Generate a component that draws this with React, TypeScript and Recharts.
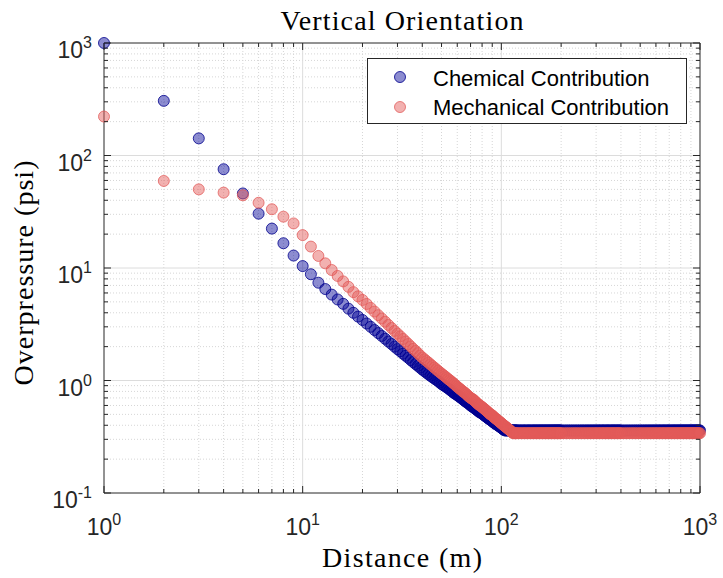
import { ScatterChart, Scatter, XAxis, YAxis, ReferenceLine, Legend } from "recharts";

const distance = [
  1, 2, 3, 4, 5, 6, 7, 8, 9, 10, 11, 12, 13, 14, 15, 16, 17, 18, 19, 20,
  21, 22, 23, 24, 25, 26, 27, 28, 29, 30, 31, 32, 33, 34, 35, 36, 37, 38, 39, 40,
  41, 42, 43, 44, 45, 46, 47, 48, 49, 50, 51, 52, 53, 54, 55, 56, 57, 58, 59, 60,
  61, 62, 63, 64, 65, 66, 67, 68, 69, 70, 71, 72, 73, 74, 75, 76, 77, 78, 79, 80,
  81, 82, 83, 84, 85, 86, 87, 88, 89, 90, 91, 92, 93, 94, 95, 96, 97, 98, 99, 100,
  101, 102, 103, 104, 105, 106, 107, 108, 109, 110, 111, 112, 113, 114, 115, 116, 117, 118, 119, 120,
  122, 124, 126, 128, 130, 132, 134, 136, 138, 140, 142, 144, 146, 148, 150, 152, 154, 156, 158, 160,
  162, 164, 166, 168, 170, 172, 174, 176, 178, 180, 182, 184, 186, 188, 190, 192, 194, 196, 198, 200,
  205, 210, 215, 220, 225, 230, 235, 240, 245, 250, 255, 260, 265, 270, 275, 280, 285, 290, 295, 300,
  305, 310, 315, 320, 325, 330, 335, 340, 345, 350, 355, 360, 365, 370, 375, 380, 385, 390, 395, 400,
  410, 420, 430, 440, 450, 460, 470, 480, 490, 500, 510, 520, 530, 540, 550, 560, 570, 580, 590, 600,
  610, 620, 630, 640, 650, 660, 670, 680, 690, 700, 710, 720, 730, 740, 750, 760, 770, 780, 790, 800,
  810, 820, 830, 840, 850, 860, 870, 880, 890, 900, 910, 920, 930, 940, 950, 960, 970, 980, 990, 1000,
];

// overpressure (psi)
const chemical = [
  1000, 306, 142, 75.5, 46, 30.4, 22.4, 16.6, 12.9, 10.4, 8.8, 7.4, 6.5, 5.8, 5.25, 4.8, 4.35, 4.0, 3.7, 3.45,
  3.21, 3.0, 2.81, 2.64, 2.49, 2.35, 2.22, 2.11, 2.0, 1.9, 1.82, 1.73, 1.66, 1.59, 1.52, 1.46, 1.4, 1.35, 1.3, 1.25,
  1.21, 1.17, 1.135, 1.1, 1.07, 1.04, 1.015, 0.99, 0.96, 0.93, 0.91, 0.89, 0.87, 0.85, 0.83, 0.81, 0.79, 0.77, 0.755, 0.74,
  0.725, 0.71, 0.695, 0.68, 0.665, 0.65, 0.64, 0.63, 0.615, 0.6, 0.59, 0.58, 0.57, 0.56, 0.55, 0.54, 0.53, 0.52, 0.515, 0.51,
  0.5, 0.49, 0.482, 0.475, 0.467, 0.46, 0.453, 0.447, 0.441, 0.435, 0.427, 0.42, 0.415, 0.41, 0.405, 0.4, 0.395, 0.39, 0.385, 0.38,
  0.375, 0.37, 0.365, 0.36, 0.36, 0.36, 0.36, 0.36, 0.36, 0.36, 0.36, 0.36, 0.36, 0.36, 0.36, 0.36, 0.36, 0.36, 0.36, 0.36,
  0.36, 0.36, 0.36, 0.36, 0.36, 0.36, 0.36, 0.36, 0.36, 0.36, 0.36, 0.36, 0.36, 0.36, 0.36, 0.36, 0.36, 0.36, 0.36, 0.36,
  0.36, 0.36, 0.36, 0.36, 0.36, 0.36, 0.36, 0.36, 0.36, 0.36, 0.36, 0.36, 0.36, 0.36, 0.36, 0.36, 0.36, 0.36, 0.36, 0.36,
  0.36, 0.36, 0.36, 0.36, 0.36, 0.36, 0.36, 0.36, 0.36, 0.36, 0.36, 0.36, 0.36, 0.36, 0.36, 0.36, 0.36, 0.36, 0.36, 0.36,
  0.36, 0.36, 0.36, 0.36, 0.36, 0.36, 0.36, 0.36, 0.36, 0.36, 0.36, 0.36, 0.36, 0.36, 0.36, 0.36, 0.36, 0.36, 0.36, 0.36,
  0.36, 0.36, 0.36, 0.36, 0.36, 0.36, 0.36, 0.36, 0.36, 0.36, 0.36, 0.36, 0.36, 0.36, 0.36, 0.36, 0.36, 0.36, 0.36, 0.36,
  0.36, 0.36, 0.36, 0.36, 0.36, 0.36, 0.36, 0.36, 0.36, 0.36, 0.36, 0.36, 0.36, 0.36, 0.36, 0.36, 0.36, 0.36, 0.36, 0.36,
  0.36, 0.36, 0.36, 0.36, 0.36, 0.36, 0.36, 0.36, 0.36, 0.36, 0.36, 0.36, 0.36, 0.36, 0.36, 0.36, 0.36, 0.36, 0.36, 0.36,
];

const mechanical = [
  222, 59.4, 50, 46.8, 44.3, 38, 33.3, 28.6, 24.9, 19.6, 15.5, 12.8, 11.0, 9.6, 8.5, 7.6, 6.8, 6.1, 5.6, 5.2,
  4.79, 4.42, 4.1, 3.81, 3.56, 3.33, 3.12, 2.93, 2.76, 2.61, 2.47, 2.34, 2.22, 2.11, 2.01, 1.91, 1.83, 1.75, 1.67, 1.6,
  1.545, 1.49, 1.44, 1.39, 1.345, 1.3, 1.26, 1.22, 1.185, 1.15, 1.12, 1.09, 1.06, 1.03, 1.005, 0.98, 0.955, 0.93, 0.905, 0.88,
  0.86, 0.84, 0.82, 0.8, 0.785, 0.77, 0.75, 0.73, 0.715, 0.7, 0.69, 0.68, 0.665, 0.65, 0.635, 0.62, 0.61, 0.6, 0.59, 0.58,
  0.57, 0.56, 0.55, 0.54, 0.53, 0.52, 0.51, 0.5, 0.495, 0.49, 0.48, 0.47, 0.463, 0.457, 0.45, 0.443, 0.436, 0.43, 0.423, 0.417,
  0.411, 0.405, 0.399, 0.394, 0.388, 0.383, 0.378, 0.373, 0.368, 0.363, 0.358, 0.353, 0.348, 0.343, 0.34, 0.34, 0.34, 0.34, 0.34, 0.34,
  0.34, 0.34, 0.34, 0.34, 0.34, 0.34, 0.34, 0.34, 0.34, 0.34, 0.34, 0.34, 0.34, 0.34, 0.34, 0.34, 0.34, 0.34, 0.34, 0.34,
  0.34, 0.34, 0.34, 0.34, 0.34, 0.34, 0.34, 0.34, 0.34, 0.34, 0.34, 0.34, 0.34, 0.34, 0.34, 0.34, 0.34, 0.34, 0.34, 0.34,
  0.34, 0.34, 0.34, 0.34, 0.34, 0.34, 0.34, 0.34, 0.34, 0.34, 0.34, 0.34, 0.34, 0.34, 0.34, 0.34, 0.34, 0.34, 0.34, 0.34,
  0.34, 0.34, 0.34, 0.34, 0.34, 0.34, 0.34, 0.34, 0.34, 0.34, 0.34, 0.34, 0.34, 0.34, 0.34, 0.34, 0.34, 0.34, 0.34, 0.34,
  0.34, 0.34, 0.34, 0.34, 0.34, 0.34, 0.34, 0.34, 0.34, 0.34, 0.34, 0.34, 0.34, 0.34, 0.34, 0.34, 0.34, 0.34, 0.34, 0.34,
  0.34, 0.34, 0.34, 0.34, 0.34, 0.34, 0.34, 0.34, 0.34, 0.34, 0.34, 0.34, 0.34, 0.34, 0.34, 0.34, 0.34, 0.34, 0.34, 0.34,
  0.34, 0.34, 0.34, 0.34, 0.34, 0.34, 0.34, 0.34, 0.34, 0.34, 0.34, 0.34, 0.34, 0.34, 0.34, 0.34, 0.34, 0.34, 0.34, 0.34,
];

const xMajorTicks = [1, 10, 100, 1000];
const xMinorTicks = [2, 3, 4, 5, 6, 7, 8, 9, 20, 30, 40, 50, 60, 70, 80, 90, 200, 300, 400, 500, 600, 700, 800, 900];
const yMajorTicks = [0.1, 1, 10, 100, 1000];
const yMinorTicks = [
  0.2, 0.3, 0.4, 0.5, 0.6, 0.7, 0.8, 0.9, 2, 3, 4, 5, 6, 7, 8, 9,
  20, 30, 40, 50, 60, 70, 80, 90, 200, 300, 400, 500, 600, 700, 800, 900,
];

const seriesNames = ["Chemical Contribution", "Mechanical Contribution"];

const W = 723;
const H = 578;
const PLOT_LEFT = 104;
const PLOT_RIGHT = 700;
const PLOT_TOP = 43;
const PLOT_BOTTOM = 493;
const AXIS = "#262626";
const TICK_FONT = "'Liberation Sans', Arial, sans-serif";
const SERIF = "'Liberation Serif', 'Times New Roman', serif";

const BLUE_FILL = "rgba(0,0,150,0.45)";
const BLUE_EDGE = "rgba(0,0,140,0.8)";
const RED_FILL = "rgba(228,92,90,0.48)";
const RED_EDGE = "rgba(226,90,88,0.75)";

const chemData = distance.map((d, i) => ({ d, v: chemical[i] }));
const mechData = distance.map((d, i) => ({ d, v: mechanical[i] }));

const exponent = (v: number) => String(Math.round(Math.log10(v)));

function XTick(props: any) {
  const { x, payload } = props;
  const v = payload.value;
  const major = xMajorTicks.includes(v);
  const len = major ? 7 : 4;
  return (
    <g>
      <line x1={x} x2={x} y1={PLOT_BOTTOM} y2={PLOT_BOTTOM - len} stroke={AXIS} />
      <line x1={x} x2={x} y1={PLOT_TOP} y2={PLOT_TOP + len} stroke={AXIS} />
      {major && (
        <text x={x} y={PLOT_BOTTOM + 42} textAnchor="middle" fontFamily={TICK_FONT} fontSize={23} fill={AXIS}>
          10
          <tspan dy={-10} fontSize={16}>
            {exponent(v)}
          </tspan>
        </text>
      )}
    </g>
  );
}

function YTick(props: any) {
  const { y, payload } = props;
  const v = payload.value;
  const major = yMajorTicks.includes(v);
  const len = major ? 7 : 4;
  return (
    <g>
      <line x1={PLOT_LEFT} x2={PLOT_LEFT + len} y1={y} y2={y} stroke={AXIS} />
      <line x1={PLOT_RIGHT} x2={PLOT_RIGHT - len} y1={y} y2={y} stroke={AXIS} />
      {major && (
        <text x={PLOT_LEFT - 12} y={y + 15} textAnchor="end" fontFamily={TICK_FONT} fontSize={23} fill={AXIS}>
          10
          <tspan dy={-10} fontSize={16}>
            {exponent(v)}
          </tspan>
        </text>
      )}
    </g>
  );
}

const blueDot = (p: any) => (
  <circle cx={p.cx} cy={p.cy} r={5.5} fill={BLUE_FILL} stroke={BLUE_EDGE} strokeWidth={1} />
);
const redDot = (p: any) => (
  <circle cx={p.cx} cy={p.cy} r={5.5} fill={RED_FILL} stroke={RED_EDGE} strokeWidth={1} />
);

function LegendBox() {
  return (
    <svg width={320} height={66} style={{ display: "block" }}>
      <rect x={0.5} y={0.5} width={319} height={65} fill="#fff" stroke={AXIS} />
      <circle cx={33} cy={19} r={5.5} fill={BLUE_FILL} stroke={BLUE_EDGE} />
      <circle cx={33} cy={49} r={5.5} fill={RED_FILL} stroke={RED_EDGE} />
      <text x={66} y={28} fontFamily={TICK_FONT} fontSize={22} fill="#000">
        {seriesNames[0]}
      </text>
      <text x={66} y={57} fontFamily={TICK_FONT} fontSize={22} fill="#000">
        {seriesNames[1]}
      </text>
    </svg>
  );
}

export default function App() {
  return (
    <div style={{ position: "absolute", left: 0, top: 0, width: W, height: H, background: "#fff" }}>
      <ScatterChart width={W} height={H} margin={{ top: 43, right: 23, bottom: 35, left: 44 }}>
        <XAxis
          dataKey="d"
          type="number"
          scale="log"
          domain={[1, 1000]}
          ticks={[...xMajorTicks, ...xMinorTicks]}
          interval={0}
          height={50}
          tickSize={0}
          tickMargin={0}
          tickLine={false}
          axisLine={{ stroke: AXIS }}
          tick={(p: any) => <XTick {...p} />}
        />
        <YAxis
          dataKey="v"
          type="number"
          scale="log"
          domain={[0.1, 1000]}
          ticks={[...yMajorTicks, ...yMinorTicks]}
          interval={0}
          width={60}
          tickSize={0}
          tickMargin={0}
          tickLine={false}
          axisLine={{ stroke: AXIS }}
          tick={(p: any) => <YTick {...p} />}
        />

        {/* minor grid, dotted */}
        {xMinorTicks.map((v) => (
          <ReferenceLine key={`xm${v}`} x={v} stroke="#d6d6d6" strokeDasharray="1 2" />
        ))}
        {yMinorTicks.map((v) => (
          <ReferenceLine key={`ym${v}`} y={v} stroke="#d6d6d6" strokeDasharray="1 2" />
        ))}
        {/* major grid */}
        {xMajorTicks.slice(1, -1).map((v) => (
          <ReferenceLine key={`xM${v}`} x={v} stroke="#dcdcdc" />
        ))}
        {yMajorTicks.slice(1, -1).map((v) => (
          <ReferenceLine key={`yM${v}`} y={v} stroke="#dcdcdc" />
        ))}
        {/* box */}
        <ReferenceLine y={1000} stroke={AXIS} />
        <ReferenceLine x={1000} stroke={AXIS} />

        <Scatter name={seriesNames[0]} data={chemData} fill={BLUE_FILL} shape={blueDot} isAnimationActive={false} />
        <Scatter name={seriesNames[1]} data={mechData} fill={RED_FILL} shape={redDot} isAnimationActive={false} />

        <Legend
          layout="horizontal"
          verticalAlign="middle"
          align="center"
          content={() => <LegendBox />}
          wrapperStyle={{ left: 367, top: 58, width: 320, height: 66 }}
        />
      </ScatterChart>

      <svg
        width={W}
        height={H}
        style={{ position: "absolute", left: 0, top: 0, pointerEvents: "none" }}
      >
        <text x={402} y={30} textAnchor="middle" fontFamily={SERIF} fontSize={28} fill="#000" textLength={243}>
          Vertical Orientation
        </text>
        <text x={402} y={567} textAnchor="middle" fontFamily={SERIF} fontSize={28} fill="#000" textLength={160}>
          Distance (m)
        </text>
        <text
          transform="rotate(-90)"
          x={-273}
          y={33}
          textAnchor="middle"
          fontFamily={SERIF}
          fontSize={28}
          fill="#000"
          textLength={225}
        >
          Overpressure (psi)
        </text>
      </svg>
    </div>
  );
}
